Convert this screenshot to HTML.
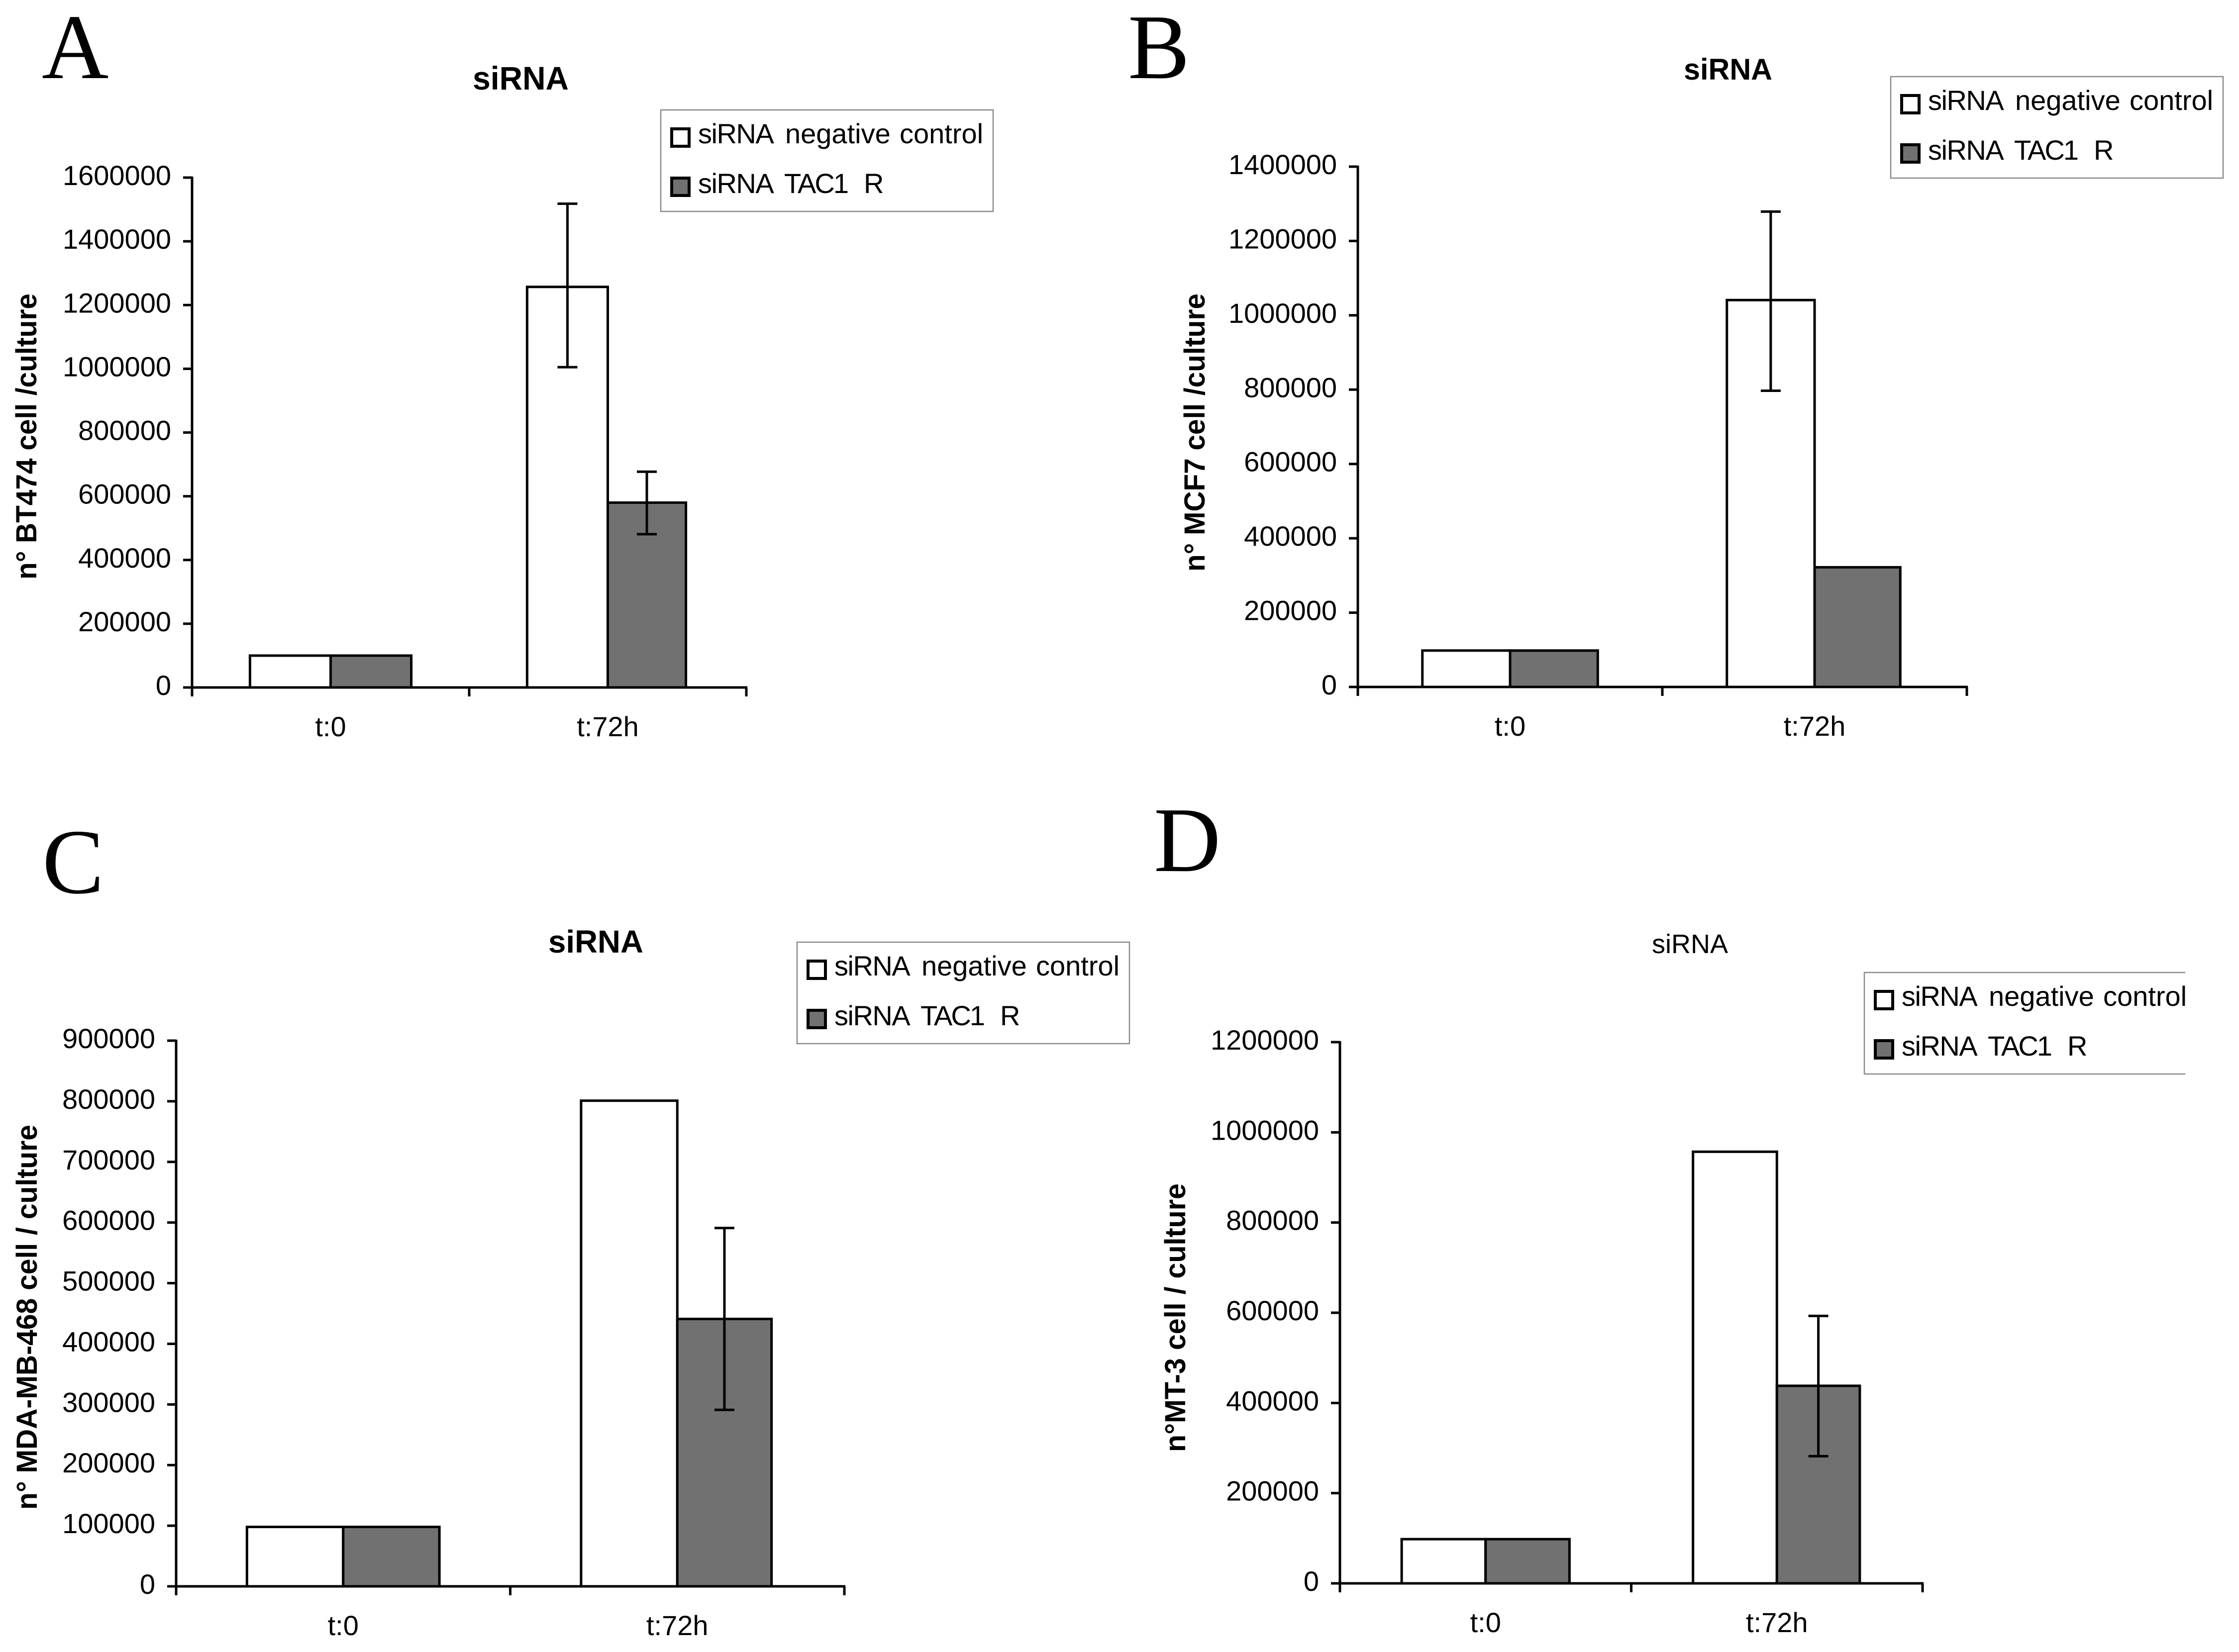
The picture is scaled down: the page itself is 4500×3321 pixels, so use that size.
<!DOCTYPE html>
<html lang="en">
<head>
<meta charset="utf-8">
<title>siRNA cell culture charts</title>
<style>
  html, body { margin: 0; padding: 0; background: #fff; }
  svg { display: block; }
  text { font-family: "Liberation Sans", Arial, sans-serif; fill: #000; }
  .letter { font-family: "Liberation Serif", "Times New Roman", serif; }
</style>
</head>
<body>
<svg id="figure" xmlns="http://www.w3.org/2000/svg" width="4500" height="3321" viewBox="0 0 4500 3321">
  <rect x="0" y="0" width="4500" height="3321" fill="#ffffff"/>
</svg>
<script>
// Shared data
const categories = ['t:0', 't:72h'];
const seriesNames = ['siRNA negative control', 'siRNA TAC1 R'];

// Panel A
const ticksA = [0, 200000, 400000, 600000, 800000, 1000000, 1200000, 1400000, 1600000];
const negA = [100000, 1257000];
const tacA = [100000, 580000];
const negHighA = [null, 1518000];
const negLowA = [null, 1005000];
const tacHighA = [null, 677000];
const tacLowA = [null, 481000];

// Panel B
const ticksB = [0, 200000, 400000, 600000, 800000, 1000000, 1200000, 1400000];
const negB = [98000, 1041000];
const tacB = [98000, 322000];
const negHighB = [null, 1279000];
const negLowB = [null, 797000];
const tacHighB = [null, null];
const tacLowB = [null, null];

// Panel C
const ticksC = [0, 100000, 200000, 300000, 400000, 500000, 600000, 700000, 800000, 900000];
const negC = [98000, 801000];
const tacC = [98000, 441000];
const negHighC = [null, null];
const negLowC = [null, null];
const tacHighC = [null, 591000];
const tacLowC = [null, 291000];

// Panel D
const ticksD = [0, 200000, 400000, 600000, 800000, 1000000, 1200000];
const negD = [98000, 957000];
const tacD = [98000, 438000];
const negHighD = [null, null];
const negLowD = [null, null];
const tacHighD = [null, 593000];
const tacLowD = [null, 282000];

const NS = 'http://www.w3.org/2000/svg';
const root = document.getElementById('figure');

function add(parent, tag, name, attrs, content) {
  const el = document.createElementNS(NS, tag);
  
  
  for (const k in attrs) el.setAttribute(k, attrs[k]);
  if (content !== undefined) el.textContent = content;
  parent.appendChild(el);
  return el;
}

function drawPanel(p, d) {
  const g = add(root, 'g', 'panel-' + p.id, {});
  const maxV = d.ticks[d.ticks.length - 1];
  const yScale = v => p.bottom - (v / maxV) * (p.bottom - p.top);
  const catW = (p.right - p.left) / d.cats.length;
  const xCenter = i => p.left + (i + 0.5) * catW;
  const barW = p.barFrac * catW;

  add(g, 'text', 'panel-letter', {
    class: 'letter', x: p.letterX, y: p.letterY, 'font-size': 186
  }, p.id);

  add(g, 'text', 'chart-title', {
    x: p.titleX, y: p.titleY, 'font-size': p.titleSize,
    'font-weight': p.titleBold ? 'bold' : 'normal',
    textLength: p.titleLen, lengthAdjust: 'spacingAndGlyphs'
  }, 'siRNA');

  add(g, 'text', 'y-axis-title', {
    transform: 'translate(' + p.yTitleX + ' ' + p.yTitleY + ') rotate(-90)',
    'font-size': 58, 'font-weight': 'bold',
    textLength: p.yTitleLen, lengthAdjust: 'spacingAndGlyphs'
  }, p.yTitle);

  // bars
  d.cats.forEach((c, i) => {
    const cx = xCenter(i);
    const yn = yScale(d.neg[i]);
    const yt = yScale(d.tac[i]);
    const tacW = i === d.cats.length - 1 ? barW - p.lastTacTrim : barW;
    add(g, 'rect', 'bar-negative-' + c, {
      x: cx - barW, y: yn, width: barW, height: p.bottom - yn,
      fill: '#ffffff', stroke: '#000', 'stroke-width': 5
    });
    add(g, 'rect', 'bar-tac1-' + c, {
      x: cx, y: yt, width: tacW, height: p.bottom - yt,
      fill: '#717171', stroke: '#000', 'stroke-width': 5
    });
    const errs = [
      [cx - barW / 2, d.negHigh[i], d.negLow[i], 'negative'],
      [cx + tacW / 2, d.tacHigh[i], d.tacLow[i], 'tac1']
    ];
    errs.forEach(e => {
      if (e[1] === null) return;
      const yh = yScale(e[1]);
      const yl = yScale(e[2]);
      add(g, 'line', 'error-bar-' + e[3], {
        x1: e[0], x2: e[0], y1: yh, y2: yl, stroke: '#000', 'stroke-width': 5
      });
      add(g, 'line', 'error-cap-high-' + e[3], {
        x1: e[0] - 20, x2: e[0] + 20, y1: yh, y2: yh, stroke: '#000', 'stroke-width': 5
      });
      add(g, 'line', 'error-cap-low-' + e[3], {
        x1: e[0] - 20, x2: e[0] + 20, y1: yl, y2: yl, stroke: '#000', 'stroke-width': 5
      });
    });
    add(g, 'text', 'x-tick-label', {
      x: cx, y: p.bottom + 98, 'font-size': 56, 'text-anchor': 'middle'
    }, c);
  });

  // axes
  add(g, 'line', 'y-axis', {
    x1: p.left, x2: p.left, y1: p.top - 2, y2: p.bottom + 18, stroke: '#000', 'stroke-width': 5
  });
  add(g, 'line', 'x-axis', {
    x1: p.left - 18, x2: p.right + 2, y1: p.bottom, y2: p.bottom, stroke: '#000', 'stroke-width': 5
  });
  d.ticks.forEach(v => {
    const y = yScale(v);
    add(g, 'line', 'y-tick', {
      x1: p.left - 18, x2: p.left, y1: y, y2: y, stroke: '#000', 'stroke-width': 5
    });
    add(g, 'text', 'y-tick-label', {
      x: p.left - 42, y: y + 15, 'font-size': 56, 'text-anchor': 'end'
    }, String(v));
  });
  for (let i = 1; i <= d.cats.length; i++) {
    const x = p.left + i * catW;
    add(g, 'line', 'x-tick', {
      x1: x, x2: x, y1: p.bottom, y2: p.bottom + 18, stroke: '#000', 'stroke-width': 5
    });
  }

  // legend
  const lg = add(g, 'g', 'legend', {});
  const W = p.legendW;
  if (p.legendClip) {
    const clip = add(lg, 'clipPath', 'legend-clip', { id: 'clip-' + p.id });
    add(clip, 'rect', 'legend-clip-area', { x: p.legendX - 5, y: p.legendY - 5, width: W + 5, height: 215 });
    lg.setAttribute('clip-path', 'url(#clip-' + p.id + ')');
  }
  add(lg, 'rect', 'legend-box', {
    x: p.legendX, y: p.legendY, width: p.legendClip ? W + 20 : W, height: 204,
    fill: '#fff', stroke: '#8a8a8a', 'stroke-width': 2.5
  });
  const fills = ['#ffffff', '#717171'];
  const offsetY = [35, 134];
  const baseY = [67, 167];
  const wordX = [[0, 175, 405], [0, 173, 333]];
  const wordSpacing = [[-1.5, 0, 0], [-1.5, -3, 0]];
  d.names.forEach((n, i) => {
    add(lg, 'rect', 'legend-swatch-' + (i + 1), {
      x: p.legendX + 22, y: p.legendY + offsetY[i] + 3, width: 35, height: 35,
      fill: fills[i], stroke: '#000', 'stroke-width': 6
    });
    const label = add(lg, 'text', 'legend-label-' + (i + 1), {
      y: p.legendY + baseY[i], 'font-size': 56
    });
    const words = n.split(' ');
    words.forEach((w, j) => {
      add(label, 'tspan', 'legend-word', {
        x: p.legendX + 75 + wordX[i][j],
        'letter-spacing': wordSpacing[i][j]
      }, j < words.length - 1 ? w + ' ' : w);
    });
  });
}

drawPanel(
  { id: 'A', left: 386, right: 1500, top: 357, bottom: 1382, barFrac: 0.291, lastTacTrim: 5,
    letterX: 84, letterY: 157, titleX: 950, titleY: 180, titleSize: 66, titleBold: true, titleLen: 193,
    yTitle: 'n\u00B0 BT474 cell /culture', yTitleX: 73, yTitleY: 1165, yTitleLen: 575,
    legendX: 1328, legendY: 221, legendW: 668 },
  { cats: categories, names: seriesNames, ticks: ticksA, neg: negA, tac: tacA,
    negHigh: negHighA, negLow: negLowA, tacHigh: tacHighA, tacLow: tacLowA }
);
drawPanel(
  { id: 'B', left: 2729, right: 3953, top: 335, bottom: 1381, barFrac: 0.288, lastTacTrim: 4,
    letterX: 2267, letterY: 157, titleX: 3384, titleY: 160, titleSize: 60, titleBold: true, titleLen: 178,
    yTitle: 'n\u00B0 MCF7 cell /culture', yTitleX: 2421, yTitleY: 1149, yTitleLen: 559,
    legendX: 3800, legendY: 154, legendW: 668 },
  { cats: categories, names: seriesNames, ticks: ticksB, neg: negB, tac: tacB,
    negHigh: negHighB, negLow: negLowB, tacHigh: tacHighB, tacLow: tacLowB }
);
drawPanel(
  { id: 'C', left: 354, right: 1697, top: 2092, bottom: 3189, barFrac: 0.288, lastTacTrim: 4,
    letterX: 85, letterY: 1795, titleX: 1102, titleY: 1915, titleSize: 64, titleBold: true, titleLen: 191,
    yTitle: 'n\u00B0 MDA-MB-468 cell / culture', yTitleX: 74, yTitleY: 3035, yTitleLen: 774,
    legendX: 1602, legendY: 1894, legendW: 668 },
  { cats: categories, names: seriesNames, ticks: ticksC, neg: negC, tac: tacC,
    negHigh: negHighC, negLow: negLowC, tacHigh: tacHighC, tacLow: tacLowC }
);
drawPanel(
  { id: 'D', left: 2693, right: 3864, top: 2095, bottom: 3183, barFrac: 0.288, lastTacTrim: 2,
    letterX: 2319, letterY: 1751, titleX: 3320, titleY: 1916, titleSize: 54, titleBold: false, titleLen: 153,
    yTitle: 'n\u00B0MT-3 cell / culture', yTitleX: 2382, yTitleY: 2919, yTitleLen: 540,
    legendX: 3747, legendY: 1955, legendW: 645, legendClip: true },
  { cats: categories, names: seriesNames, ticks: ticksD, neg: negD, tac: tacD,
    negHigh: negHighD, negLow: negLowD, tacHigh: tacHighD, tacLow: tacLowD }
);
</script>
</body>
</html>
